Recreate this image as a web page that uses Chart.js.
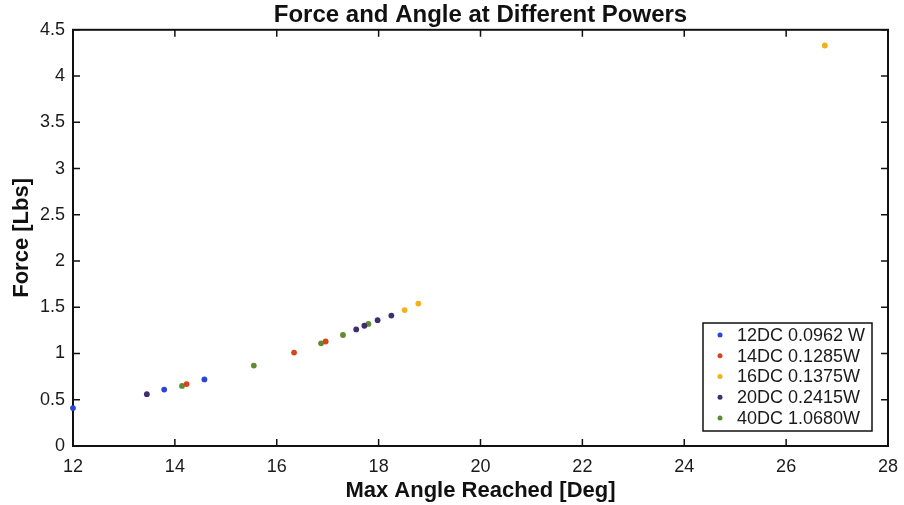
<!DOCTYPE html>
<html>
<head>
<meta charset="utf-8">
<script src="https://cdn.jsdelivr.net/npm/chart.js@4.4.1/dist/chart.umd.min.js"></script>
<style>
  html, body { margin: 0; padding: 0; background: #fff; }
  canvas { display: block; }
</style>
</head>
<body>
<canvas id="chart" width="904" height="505"></canvas>
<script>
// values: [angle in deg, force in lbs]
const series12 = [[12.0, 0.41], [13.79, 0.61], [14.58, 0.72]];
const series14 = [[14.23, 0.67], [16.34, 1.01], [16.96, 1.13]];
const series16 = [[18.51, 1.47], [18.78, 1.54], [26.76, 4.33]];
const series20 = [[13.45, 0.56], [17.56, 1.26], [17.72, 1.30], [17.98, 1.36], [18.25, 1.41]];
const series40 = [[14.14, 0.65], [15.55, 0.87], [16.87, 1.11], [17.30, 1.20], [17.80, 1.32]];

const seriesNames = ['12DC 0.0962 W', '14DC 0.1285W', '16DC 0.1375W', '20DC 0.2415W', '40DC 1.0680W'];
const seriesColors = ['#2b45d6', '#d8431c', '#f2b118', '#3f2d70', '#5f8c30'];

const xTicks = [12, 14, 16, 18, 20, 22, 24, 26, 28];
const yTicks = [0, 0.5, 1, 1.5, 2, 2.5, 3, 3.5, 4, 4.5];

Chart.defaults.font.family = '"Liberation Sans", Arial, sans-serif';
Chart.defaults.color = '#1a1a1a';

const allSeries = [series12, series14, series16, series20, series40];
const datasets = allSeries.map((s, i) => ({
    label: seriesNames[i],
    data: s.map(p => ({ x: p[0], y: p[1] })),
    backgroundColor: seriesColors[i],
    borderColor: seriesColors[i],
    pointRadius: 2.9,
    pointBorderWidth: 0,
    clip: false
}));

// box around the plot with ticks pointing inward, like the matlab figure
const framePlugin = {
    id: 'frame',
    beforeDatasetsDraw(chart) {
        const { ctx, chartArea: a, scales } = chart;
        const len = 7;
        ctx.save();
        ctx.strokeStyle = '#111';
        ctx.lineWidth = 2;
        ctx.strokeRect(a.left, a.top, a.right - a.left, a.bottom - a.top);
        ctx.lineWidth = 1.5;
        ctx.beginPath();
        xTicks.forEach(v => {
            const px = scales.x.getPixelForValue(v);
            ctx.moveTo(px, a.bottom); ctx.lineTo(px, a.bottom - len);
            ctx.moveTo(px, a.top); ctx.lineTo(px, a.top + len);
        });
        yTicks.forEach(v => {
            const py = scales.y.getPixelForValue(v);
            ctx.moveTo(a.left, py); ctx.lineTo(a.left + len, py);
            ctx.moveTo(a.right, py); ctx.lineTo(a.right - len, py);
        });
        ctx.stroke();
        ctx.restore();
    }
};

// legend box in the lower right corner of the plot
const legendBox = {
    id: 'legendBox',
    afterDatasetsDraw(chart) {
        const { ctx, chartArea: a } = chart;
        const w = 169, rowH = 20.75;
        const h = 108;
        const right = a.right - 16;
        const bottom = a.bottom - 15;
        const left = right - w, top = bottom - h;
        ctx.save();
        ctx.fillStyle = '#fff';
        ctx.fillRect(left, top, w, h);
        ctx.strokeStyle = '#111';
        ctx.lineWidth = 1.5;
        ctx.strokeRect(left, top, w, h);
        ctx.font = '18px "Liberation Sans", Arial, sans-serif';
        ctx.textBaseline = 'middle';
        chart.data.datasets.forEach((ds, i) => {
            const y = top + 12 + i * rowH;
            ctx.fillStyle = ds.backgroundColor;
            ctx.beginPath();
            ctx.arc(left + 17, y, 2.5, 0, Math.PI * 2);
            ctx.fill();
            ctx.fillStyle = '#1a1a1a';
            ctx.fillText(ds.label, left + 34, y + 1);
        });
        ctx.restore();
    }
};

new Chart(document.getElementById('chart'), {
    type: 'scatter',
    data: { datasets: datasets },
    options: {
        responsive: false,
        animation: false,
        layout: { padding: { right: 16 } },
        plugins: {
            legend: { display: false },
            tooltip: { enabled: false },
            title: {
                display: true,
                text: 'Force and Angle at Different Powers',
                fullSize: false,
                color: '#111',
                font: { size: 24, weight: 'bold', lineHeight: 1.2 },
                padding: { top: 1, bottom: 0 }
            }
        },
        scales: {
            x: {
                type: 'linear',
                min: xTicks[0],
                max: xTicks[xTicks.length - 1],
                afterBuildTicks: s => { s.ticks = xTicks.map(v => ({ value: v })); },
                afterFit: s => { s.height = 59; s.paddingLeft = 0; s.paddingRight = 0; },
                grid: { display: false, drawTicks: false },
                border: { display: false },
                ticks: { font: { size: 18 }, padding: 10, maxRotation: 0, callback: v => String(v) },
                title: {
                    display: true,
                    text: 'Max Angle Reached [Deg]',
                    color: '#111',
                    font: { size: 22, weight: 'bold', lineHeight: 1.2 },
                    padding: { top: 0, bottom: 1 }
                }
            },
            y: {
                type: 'linear',
                min: yTicks[0],
                max: yTicks[yTicks.length - 1],
                afterBuildTicks: s => { s.ticks = yTicks.map(v => ({ value: v })); },
                afterFit: s => { s.width = 73; s.paddingTop = 0; s.paddingBottom = 0; },
                grid: { display: false, drawTicks: false },
                border: { display: false },
                ticks: { font: { size: 18 }, padding: 8, callback: v => String(v) },
                title: {
                    display: true,
                    text: 'Force [Lbs]',
                    color: '#111',
                    font: { size: 22, weight: 'bold', lineHeight: 1.2 },
                    padding: { top: 9, bottom: 0 }
                }
            }
        }
    },
    plugins: [framePlugin, legendBox]
});
</script>
</body>
</html>
